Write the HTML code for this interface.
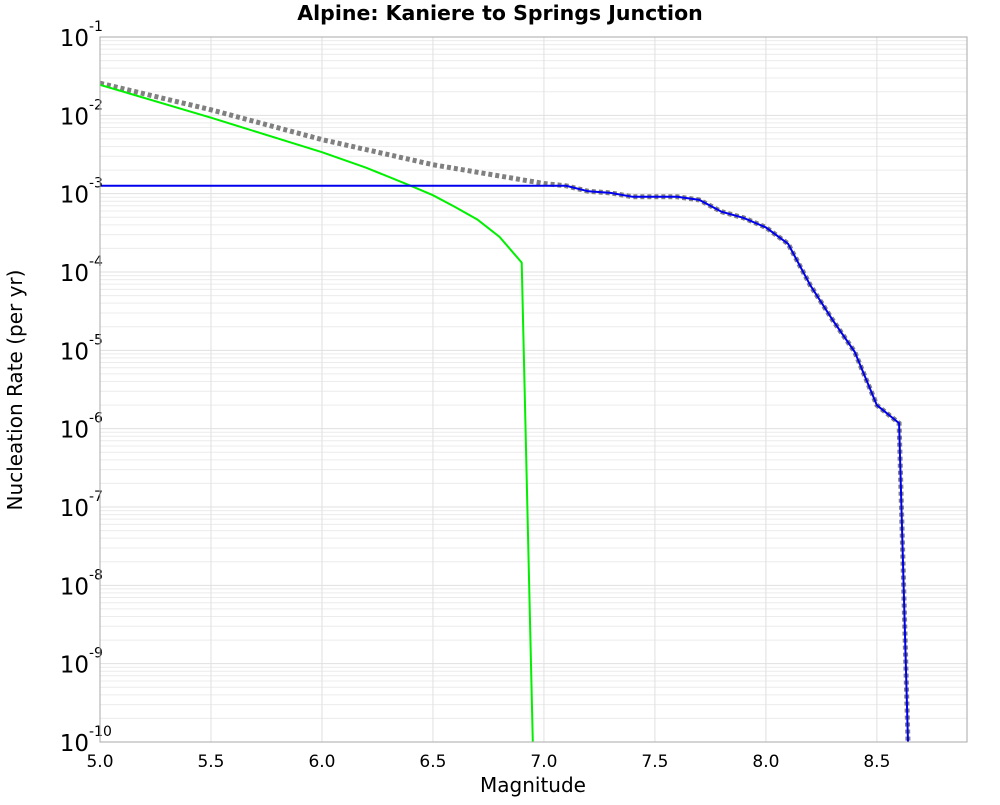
<!DOCTYPE html>
<html><head><meta charset="utf-8"><style>
body{margin:0;background:#fff;font-family:"Liberation Sans","DejaVu Sans",sans-serif}
</style></head><body>
<svg id="chart" width="1000" height="800" xmlns="http://www.w3.org/2000/svg" font-family="DejaVu Sans, Liberation Sans, sans-serif">
<rect width="1000" height="800" fill="#fff"/>
<text x="500" y="20" text-anchor="middle" font-size="20.5" font-weight="bold">Alpine: Kaniere to Springs Junction</text>
<g id="grid"></g><g id="series"></g><g id="axes"></g>
<text x="533" y="792" text-anchor="middle" font-size="20">Magnitude</text>
<text transform="translate(22,390) rotate(-90)" text-anchor="middle" font-size="20">Nucleation Rate (per yr)</text>
</svg>
<script>
const xTicks=[5.0,5.5,6.0,6.5,7.0,7.5,8.0,8.5];
const yExps=[-1,-2,-3,-4,-5,-6,-7,-8,-9,-10];
const blueMags=[5.0,7.1,7.2,7.3,7.4,7.5,7.6,7.7,7.8,7.9,8.0,8.1,8.2,8.3,8.4,8.5,8.6,8.64,8.66];
const blueLog=[-2.90,-2.90,-2.97,-2.99,-3.04,-3.04,-3.04,-3.08,-3.23,-3.31,-3.43,-3.64,-4.17,-4.61,-5.02,-5.70,-5.93,-10,-11];
const grayMags=[5.0,5.5,6.0,6.5,7.0];
const grayLog=[-1.59,-1.93,-2.31,-2.63,-2.87];
const greenMags=[5.0,5.5,6.0,6.2,6.4,6.5,6.6,6.7,6.8,6.9,6.95,6.97];
const greenLog=[-1.61,-2.03,-2.47,-2.67,-2.90,-3.02,-3.17,-3.33,-3.55,-3.88,-10,-11];
const L=100,R=967,T=37,B=742,xmin=5,xmax=8.906,ymax=-1,ymin=-10;
const xs=m=>L+(m-xmin)/(xmax-xmin)*(R-L);
const ys=l=>T+(ymax-l)/(ymax-ymin)*(B-T);
const NS="http://www.w3.org/2000/svg";
function mk(p,tag,a){const e=document.createElementNS(NS,tag);for(const k in a)e.setAttribute(k,a[k]);p.appendChild(e);return e;}
const grid=document.getElementById('grid'),ser=document.getElementById('series'),ax=document.getElementById('axes');
for(let d=-10;d<-1;d++){for(let k=2;k<10;k++){const y=ys(d+Math.log10(k));
const g=mk(grid,'line',{x1:L,x2:R,y1:y,y2:y,stroke:'#ececec','stroke-width':1});

}}
yExps.forEach(e=>{const y=ys(e);
const g=mk(grid,'line',{x1:L,x2:R,y1:y,y2:y,stroke:'#e0e0e0','stroke-width':1});


const t=mk(ax,'text',{x:89,y:y+9,'text-anchor':'end','font-size':23});


t.textContent='10';
const s=mk(ax,'text',{x:89,y:y-6,'text-anchor':'start','font-size':14});


s.textContent=String(e);});
xTicks.forEach(m=>{const x=xs(m);
const g=mk(grid,'line',{x1:x,x2:x,y1:T,y2:B,stroke:'#e0e0e0','stroke-width':1});


const t=mk(ax,'text',{x:x,y:767,'text-anchor':'middle','font-size':17});


t.textContent=m.toFixed(1);});
const fr=mk(ax,'rect',{x:L,y:T,width:R-L,height:B-T,fill:'none',stroke:'#aaa'});


mk(ser,'clipPath',{id:'clip'}).appendChild(document.createElementNS(NS,'rect'));
const cr=ser.querySelector('clipPath rect');cr.setAttribute('x',L);cr.setAttribute('y',T);cr.setAttribute('width',R-L);cr.setAttribute('height',B-T);
const pts=(ms,ls)=>ms.map((m,i)=>xs(m).toFixed(1)+','+ys(ls[i]).toFixed(1)).join(' ');
const grayAll=grayMags.concat(blueMags.slice(1)), grayAllLog=grayLog.concat(blueLog.slice(1));
const g1=mk(ser,'polyline',{points:pts(grayAll,grayAllLog),fill:'none',stroke:'#808080','stroke-width':5,'stroke-dasharray':'4,3','clip-path':'url(#clip)'});


const g2=mk(ser,'polyline',{points:pts(greenMags,greenLog),fill:'none',stroke:'#00f000','stroke-width':2,'clip-path':'url(#clip)'});


const g3=mk(ser,'polyline',{points:pts(blueMags,blueLog),fill:'none',stroke:'#0000ee','stroke-width':2,'clip-path':'url(#clip)'});


</script>
</body></html>
